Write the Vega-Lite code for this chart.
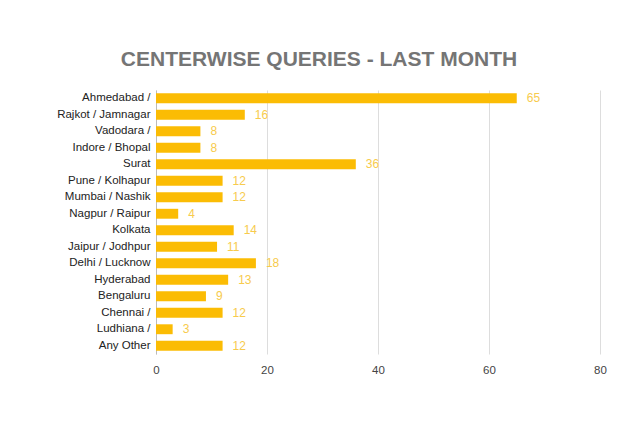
{
  "$schema": "https://vega.github.io/schema/vega-lite/v6.json",
  "width": 444,
  "height": 264,
  "padding": {"left": 10, "top": 49, "right": 28, "bottom": 10},
  "background": "white",
  "title": {
    "text": "CENTERWISE QUERIES - LAST MONTH",
    "font": "Liberation Sans",
    "fontSize": 21,
    "fontWeight": "bold",
    "color": "#757575",
    "anchor": "middle",
    "frame": "group",
    "dx": -59,
    "offset": 20
  },
  "config": {"view": {"stroke": null}},
  "data": {
    "values": [
      {"center": "Ahmedabad /", "queries": 65},
      {"center": "Rajkot / Jamnagar", "queries": 16},
      {"center": "Vadodara /", "queries": 8},
      {"center": "Indore / Bhopal", "queries": 8},
      {"center": "Surat", "queries": 36},
      {"center": "Pune / Kolhapur", "queries": 12},
      {"center": "Mumbai / Nashik", "queries": 12},
      {"center": "Nagpur / Raipur", "queries": 4},
      {"center": "Kolkata", "queries": 14},
      {"center": "Jaipur / Jodhpur", "queries": 11},
      {"center": "Delhi / Lucknow", "queries": 18},
      {"center": "Hyderabad", "queries": 13},
      {"center": "Bengaluru", "queries": 9},
      {"center": "Chennai /", "queries": 12},
      {"center": "Ludhiana /", "queries": 3},
      {"center": "Any Other", "queries": 12}
    ]
  },
  "encoding": {
    "y": {
      "field": "center",
      "type": "nominal",
      "sort": null,
      "scale": {"paddingInner": 0.4, "paddingOuter": 0.2},
      "axis": {
        "title": null,
        "ticks": false,
        "labelPadding": 6,
        "labelFont": "Liberation Sans",
        "labelFontSize": 11.5,
        "labelColor": "#222222",
        "domainColor": "#bbbbbb",
        "minExtent": 146,
        "maxExtent": 146,
        "labelLimit": 200
      }
    },
    "x": {
      "field": "queries",
      "type": "quantitative",
      "scale": {"domain": [0, 80]},
      "axis": {
        "title": null,
        "values": [0, 20, 40, 60, 80],
        "ticks": false,
        "domain": false,
        "labelPadding": 10,
        "labelFont": "Liberation Sans",
        "labelFontSize": 11.5,
        "labelColor": "#444444",
        "gridColor": "#dddddd",
        "labelFlush": false
      }
    }
  },
  "layer": [
    {"mark": {"type": "bar", "color": "#FBBC04"}},
    {
      "mark": {
        "type": "text",
        "align": "left",
        "dx": 10,
        "font": "Liberation Sans",
        "fontSize": 12,
        "color": "#F7CB4D"
      },
      "encoding": {"text": {"field": "queries", "type": "quantitative"}}
    }
  ]
}
